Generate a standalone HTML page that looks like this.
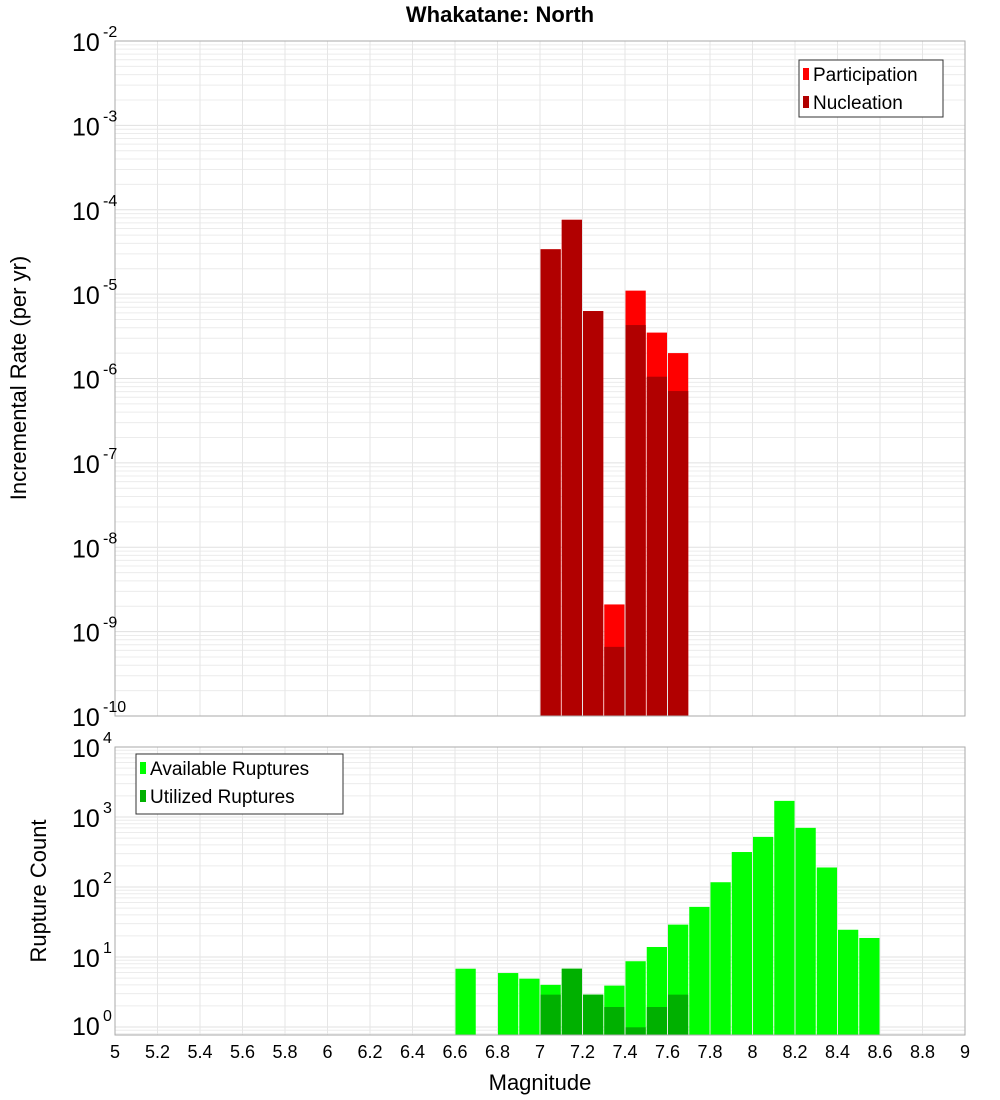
<!DOCTYPE html>
<html><head><meta charset="utf-8"><style>
body{margin:0;background:#fff;font-family:"Liberation Sans","DejaVu Sans",sans-serif}
svg{display:block}
</style></head><body>
<svg id="c" width="1000" height="1100" xmlns="http://www.w3.org/2000/svg"></svg>
<script>
const bins=[7.05,7.15,7.25,7.35,7.45,7.55,7.65];
const participation=[3.4e-5,7.6e-5,6.3e-6,2.1e-9,1.1e-5,3.5e-6,2.0e-6];
const nucleation=[3.4e-5,7.6e-5,6.3e-6,6.6e-10,4.3e-6,1.05e-6,7.1e-7];
const availBins=[6.65,6.85,6.95,7.05,7.15,7.25,7.35,7.45,7.55,7.65,7.75,7.85,7.95,8.05,8.15,8.25,8.35,8.45,8.55];
const available=[6.8,5.9,4.9,4,6.8,2.9,3.9,8.7,13.9,29,52,117,316,520,1700,700,190,24.5,18.7];
const utilBins=[7.05,7.15,7.25,7.35,7.45,7.55,7.65];
const utilized=[2.9,6.8,2.9,1.93,0.99,1.93,2.9];
const xTicks=["5","5.2","5.4","5.6","5.8","6","6.2","6.4","6.6","6.8","7","7.2","7.4","7.6","7.8","8","8.2","8.4","8.6","8.8","9"];
const topExp=[-2,-3,-4,-5,-6,-7,-8,-9,-10];
const botExp=[4,3,2,1,0];

const svg=document.getElementById('c');const NS="http://www.w3.org/2000/svg";
function el(t,a,p){const e=document.createElementNS(NS,t);for(const k in a)e.setAttribute(k,a[k]);(p||svg).appendChild(e);return e;}
const X0=115,X1=965;
const xs=v=>X0+(v-5)/4*(X1-X0);
const T0=41,T1=716;const ty=v=>T0+(-2-Math.log10(v))*(T1-T0)/8;
const B0=747,B1=1035;const by=v=>B0+(4-Math.log10(v))*70;
const bw=(X1-X0)/40;

function grid(y0,y1,ymap,decHi,decLo){
  const g=el('g',{});
  
  for(let d=decLo;d<decHi;d++)for(let m=1;m<10;m++){const y=ymap(m*Math.pow(10,d));if(y>=y0&&y<=y1)el('line',{x1:X0,x2:X1,y1:y,y2:y,stroke:m==1?'#e0e0e0':'#ececec','stroke-width':1},g);}
  xTicks.forEach(t=>{const x=xs(+t);el('line',{x1:x,x2:x,y1:y0,y2:y1,stroke:'#e6e6e6'},g);});
}
grid(T0,T1,ty,-2,-10);
grid(B0,B1,by,4,-1);

function bars(b,vals,ymap,yb,color,name){
  b.forEach((c,i)=>{const y=Math.max(ymap(vals[i]),0);const r=el('rect',{x:xs(c)-bw/2+0.5,y:y,width:bw-1,height:yb-y,fill:color});
  });
}
bars(bins,participation,ty,T1,'#ff0000','participation-bar');
bars(bins,nucleation,ty,T1,'#b10000','nucleation-bar');
bars(availBins,available,by,B1,'#00ff00','available-bar');
bars(utilBins,utilized,by,B1,'#00b000','utilized-bar');

el('rect',{x:X0,y:T0,width:X1-X0,height:T1-T0,fill:'none',stroke:'#aaa'});
el('rect',{x:X0,y:B0,width:X1-X0,height:B1-B0,fill:'none',stroke:'#aaa'});

function txt(x,y,s,sz,anchor,extra){const t=el('text',Object.assign({x:x,y:y,'font-size':sz,'text-anchor':anchor||'start',fill:'#000'},extra||{}));t.textContent=s;return t;}
function expLabel(y,e,name){const g=el('g',{});
  txt(103,y+9,'10',25,'end',{}).remove();
  const t=el('text',{x:72,y:y+10,'font-size':25,fill:'#000'},g);t.textContent='10';
  const s=el('text',{x:103,y:y-4,'font-size':16,fill:'#000'},g);s.textContent=String(e);}
topExp.forEach(e=>expLabel(ty(Math.pow(10,e)),e,'y-tick-'+e));
botExp.forEach(e=>expLabel(by(Math.pow(10,e))+(e==0?-2:0),e,'count-tick-'+e));
xTicks.forEach(t=>{const l=txt(xs(+t),1058,t,18,'middle');});

let t=txt(500,22,'Whakatane: North',22,'middle',{'font-weight':'bold'});
t=txt(540,1090,'Magnitude',22,'middle');
t=txt(0,0,'Incremental Rate (per yr)',22,'middle',{transform:'translate(26,378) rotate(-90)'});
t=txt(0,0,'Rupture Count',22,'middle',{transform:'translate(46,891) rotate(-90)'});

function legend(x,y,w,h,items,name){const g=el('g',{});
  el('rect',{x:x,y:y,width:w,height:h,fill:'#fff',stroke:'#333'},g);
  items.forEach((it,i)=>{const yy=y+14+i*28;el('rect',{x:x+4,y:yy-6,width:6,height:12,fill:it[1]},g);
    const tt=el('text',{x:x+14,y:yy+7,'font-size':19,fill:'#000'},g);tt.textContent=it[0];});}
legend(799,60,144,57,[['Participation','#ff0000'],['Nucleation','#b10000']],'rate-legend');
legend(136,754,207,60,[['Available Ruptures','#00ff00'],['Utilized Ruptures','#00b000']],'count-legend');
</script>
</body></html>
